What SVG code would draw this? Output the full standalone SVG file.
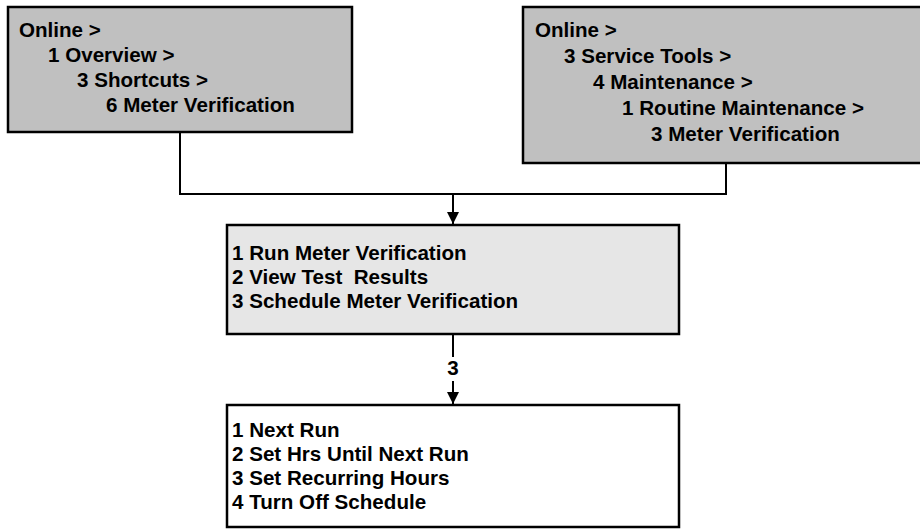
<svg xmlns="http://www.w3.org/2000/svg" width="920" height="529" viewBox="0 0 920 529">
<style>
.box{stroke:#000;stroke-width:2.5}
.t{font-family:"Liberation Sans",Arial,sans-serif;font-weight:bold;font-size:20.6px;fill:#000;white-space:pre}
.ln{fill:none;stroke:#000;stroke-width:2}
</style>
<defs>
<marker id="ah" markerWidth="12" markerHeight="12" refX="12" refY="6" orient="auto" markerUnits="userSpaceOnUse">
<path d="M0,0 L12,6 L0,12 Z" fill="#000"/>
</marker>
</defs>
<rect width="920" height="529" fill="#fff"/>
<g id="connectors">
<polyline class="ln" points="180,132 180,194 726,194 726,163"/>
<line class="ln" x1="453" y1="194" x2="453" y2="224" marker-end="url(#ah)"/>
<line class="ln" x1="453" y1="334" x2="453" y2="404" marker-end="url(#ah)"/>
<rect x="440" y="357" width="26" height="24" fill="#fff"/>
<text class="t" x="453" y="375" text-anchor="middle">3</text>
</g>
<g id="node-shortcut">
<rect class="box" x="8" y="7" width="344" height="125" fill="#c0c0c0"/>
<text class="t" x="19" y="37">Online &gt;</text>
<text class="t" x="48" y="62">1 Overview &gt;</text>
<text class="t" x="77" y="87">3 Shortcuts &gt;</text>
<text class="t" x="106" y="112">6 Meter Verification</text>
</g>
<g id="node-service">
<rect class="box" x="523" y="7" width="410" height="156" fill="#c0c0c0"/>
<text class="t" x="535" y="37">Online &gt;</text>
<text class="t" x="564" y="63">3 Service Tools &gt;</text>
<text class="t" x="593" y="89">4 Maintenance &gt;</text>
<text class="t" x="622" y="115">1 Routine Maintenance &gt;</text>
<text class="t" x="651" y="141">3 Meter Verification</text>
</g>
<g id="node-meter">
<rect class="box" x="227" y="225" width="452" height="109" fill="#e6e6e6"/>
<text class="t" x="232" y="260">1 Run Meter Verification</text>
<text class="t" x="232" y="284" xml:space="preserve">2 View Test  Results</text>
<text class="t" x="232" y="308">3 Schedule Meter Verification</text>
</g>
<g id="node-schedule">
<rect class="box" x="227" y="405" width="452" height="122" fill="#fff"/>
<text class="t" x="232" y="437">1 Next Run</text>
<text class="t" x="232" y="461">2 Set Hrs Until Next Run</text>
<text class="t" x="232" y="485">3 Set Recurring Hours</text>
<text class="t" x="232" y="509">4 Turn Off Schedule</text>
</g>
</svg>
